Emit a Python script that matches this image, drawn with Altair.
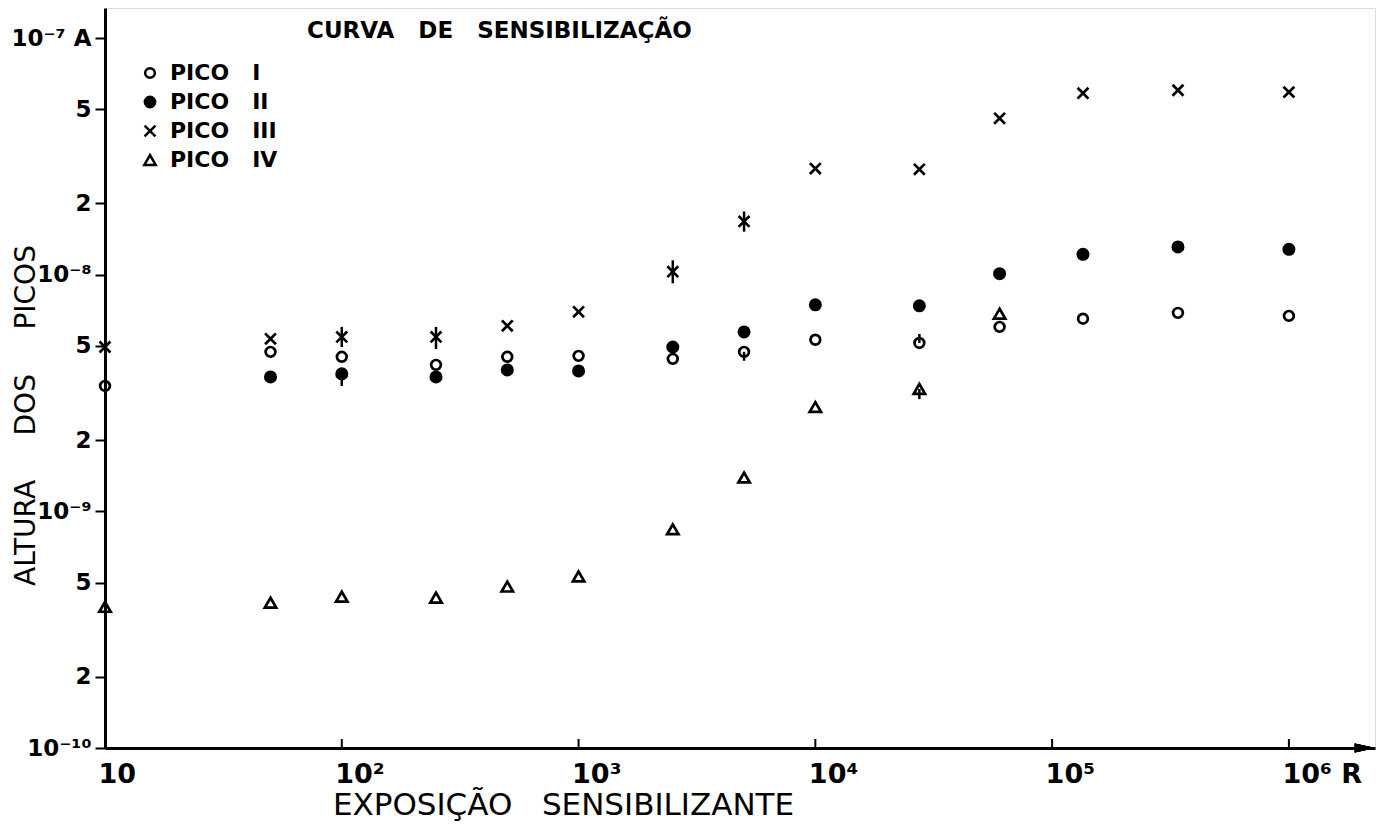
import math
import altair as alt
import pandas as pd

# ---------------- data ----------------
exposure = [10, 50, 100, 250, 500, 1000, 2500, 5000, 1e4, 2.75e4, 6e4, 1.35e5, 3.4e5, 1e6]

pico_i_x = exposure
pico_i = [3.39e-9, 4.72e-9, 4.50e-9, 4.16e-9, 4.50e-9, 4.54e-9, 4.41e-9,
          4.72e-9, 5.31e-9, 5.15e-9, 6.02e-9, 6.52e-9, 6.90e-9, 6.70e-9]

pico_ii_x = exposure[1:]
pico_ii = [3.70e-9, 3.81e-9, 3.70e-9, 3.96e-9, 3.92e-9, 4.95e-9, 5.73e-9,
           7.46e-9, 7.39e-9, 1.01e-8, 1.22e-8, 1.31e-8, 1.28e-8]

pico_iii_x = exposure
pico_iii = [4.95e-9, 5.36e-9, 5.46e-9, 5.46e-9, 6.08e-9, 6.97e-9, 1.03e-8,
            1.68e-8, 2.81e-8, 2.79e-8, 4.58e-8, 5.85e-8, 6.02e-8, 5.91e-8]

pico_iv_x = exposure[:11]
pico_iv = [3.95e-10, 4.11e-10, 4.36e-10, 4.32e-10, 4.81e-10, 5.31e-10,
           8.40e-10, 1.39e-9, 2.76e-9, 3.29e-9, 6.84e-9]

NB = "\u00a0"
series_names = [f"PICO{NB*3}I", f"PICO{NB*3}II", f"PICO{NB*3}III", f"PICO{NB*3}IV"]

# small error bars visible on some points (series index, exposure, low, high)
err_series = [2, 2, 2, 2, 1, 0, 0, 3]
err_x = [100, 250, 2500, 5000, 100, 5000, 2.75e4, 2.75e4]
err_lo = [4.95e-9, 4.85e-9, 9.2e-9, 1.52e-8, 3.39e-9, 4.33e-9, 5.15e-9, 2.98e-9]
err_hi = [6.02e-9, 6.02e-9, 1.15e-8, 1.85e-8, 3.81e-9, 4.72e-9, 5.62e-9, 3.29e-9]

x_tick_values = [10, 100, 1000, 1e4, 1e5, 1e6]
x_tick_labels = ["10", "10²", "10³", "10⁴", "10⁵", "10⁶ R"]
y_tick_values = [1e-7, 5e-8, 2e-8, 1e-8, 5e-9, 2e-9, 1e-9, 5e-10, 2e-10, 1e-10]
y_tick_labels = ["10⁻⁷ A", "5", "2", "10⁻⁸", "5", "2", "10⁻⁹", "5", "2", "10⁻¹⁰"]

title_text = f"CURVA{NB*3}DE{NB*3}SENSIBILIZAÇÃO"
x_title = f"EXPOSIÇÃO{NB*3}SENSIBILIZANTE"
y_title = f"ALTURA{NB*5}DOS{NB*5}PICOS"

# ---------------- tables ----------------
rows = []
for name, xs, ys in zip(series_names,
                        [pico_i_x, pico_ii_x, pico_iii_x, pico_iv_x],
                        [pico_i, pico_ii, pico_iii, pico_iv]):
    for xv, yv in zip(xs, ys):
        rows.append({"serie": name, "exp": xv, "alt": yv})
df = pd.DataFrame(rows)
err_df = pd.DataFrame({"serie": [series_names[i] for i in err_series],
                       "exp": err_x, "lo": err_lo, "hi": err_hi})
xt_df = pd.DataFrame({"exp": x_tick_values[1:]})
title_df = pd.DataFrame({"t": [title_text]})


def label_expr(vals, labels):
    expr = "''"
    for v, lab in reversed(list(zip(vals, labels))):
        expr = f"abs(log(datum.value)/LN10 - ({math.log10(v):.5f})) < 0.01 ? '{lab}' : {expr}"
    return expr


FONT = "DejaVu Sans"
W, H = 1270, 740

xscale = alt.Scale(type="log", domain=[10, 2.31e6], nice=False, zero=False)
yscale = alt.Scale(type="log", domain=[1e-10, 1.34e-7], nice=False, zero=False)

X_PATH = "M-1,-1L1,1M-1,1L1,-1"

x_axis = alt.Axis(
    values=x_tick_values, labelExpr=label_expr(x_tick_values, x_tick_labels),
    ticks=False, grid=False, domainColor="black", domainWidth=3,
    labelFont=FONT, labelFontSize=27, labelFontWeight="bold", labelColor="black",
    labelAlign="left", labelBaseline="top", labelPadding=13, labelOffset=-7,
    labelFlush=False,
    title=x_title, titleFont=FONT, titleFontSize=31,
    titleFontWeight="normal", titleColor="black", titleX=458, titleY=66,
    titleAlign="center", titleAnchor="start", titleBaseline="alphabetic",
)
y_axis = alt.Axis(
    values=y_tick_values, labelExpr=label_expr(y_tick_values, y_tick_labels),
    grid=False, domainColor="black", domainWidth=3, tickColor="black",
    tickWidth=2, tickSize=10, labelFont=FONT, labelFontSize=23,
    labelFontWeight="bold", labelColor="black", labelPadding=4, labelFlush=False,
    title=y_title, titleFont=FONT, titleFontSize=28,
    titleFontWeight="normal", titleColor="black", titleX=-79, titleY=407,
    titleAngle=-90, titleAlign="center", titleAnchor="start",
    titleBaseline="middle",
)

leg = alt.Legend(title=None, orient="none", legendX=34, legendY=54, padding=0,
                 rowPadding=7, labelFont=FONT, labelFontSize=22,
                 labelFontWeight="bold", labelColor="black", labelOffset=9,
                 symbolStrokeWidth=2.5)

points = alt.Chart(df).mark_point(opacity=1, strokeWidth=2.7).encode(
    x=alt.X("exp:Q", scale=xscale, axis=x_axis),
    y=alt.Y("alt:Q", scale=yscale, axis=y_axis),
    shape=alt.Shape("serie:N", scale=alt.Scale(domain=series_names,
                    range=["circle", "circle", X_PATH, "triangle-up"]),
                    legend=leg),
    fill=alt.Fill("serie:N", scale=alt.Scale(domain=series_names,
                  range=["transparent", "black", "transparent", "transparent"]),
                  legend=leg),
    stroke=alt.Stroke("serie:N", scale=alt.Scale(domain=series_names,
                      range=["black", "black", "black", "black"]),
                      legend=leg),
    size=alt.Size("serie:N", scale=alt.Scale(domain=series_names,
                  range=[95, 130, 145, 720]),
                  legend=leg),
)

errbars = alt.Chart(err_df).mark_rule(color="black", strokeWidth=2.5).encode(
    x=alt.X("exp:Q", scale=xscale),
    y=alt.Y("lo:Q", scale=yscale),
    y2="hi:Q",
)

xticks = alt.Chart(xt_df).mark_rule(color="black", strokeWidth=2).encode(
    x=alt.X("exp:Q", scale=xscale),
    y=alt.value(H),
    y2=alt.value(H - 9),
)

arrow = alt.Chart(xt_df).mark_point(
    shape="M-1,-0.45L1,0L-1,0.45Z", filled=True, color="black", opacity=1,
    size=420,
).encode(x=alt.value(W - 10), y=alt.value(H))

title = alt.Chart(title_df).mark_text(
    font=FONT, fontSize=23, fontWeight="bold", color="black",
    align="left", baseline="alphabetic",
).encode(text="t:N", x=alt.value(202), y=alt.value(30))

chart = alt.layer(errbars, points, xticks, arrow, title).properties(
    width=W, height=H,
    autosize=alt.AutoSizeParams(type="none"),
    padding={"left": 97, "top": 0, "right": 3, "bottom": 74},
).configure_view(stroke=None).configure(background="white")

chart.save("out.html", embed_options={"renderer": "svg", "actions": False})
